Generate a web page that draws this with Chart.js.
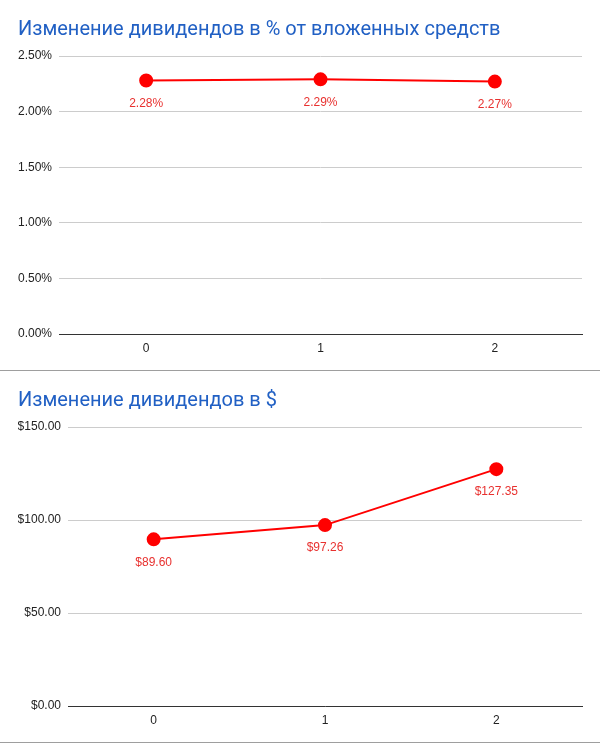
<!DOCTYPE html>
<html>
<head>
<meta charset="utf-8">
<script src="https://cdn.jsdelivr.net/npm/chart.js@4"></script>
<style>
  body { margin: 0; background: #fff; }
  .bloco { position: absolute; left: 0; width: 600px; }
  #blocoPct { top: 0; height: 370px; border-bottom: 1px solid #9e9e9e; }
  #blocoUsd { top: 371px; height: 371px; border-bottom: 1px solid #9e9e9e; }
</style>
</head>
<body>
<div class="bloco" id="blocoPct"><canvas id="graficoPct"></canvas></div>
<div class="bloco" id="blocoUsd"><canvas id="graficoUsd"></canvas></div>
<script>
const anos = ["0", "1", "2"]
const dividendosPct = [2.28, 2.29, 2.27]
const dividendosUsd = [89.60, 97.26, 127.35]

const tituloPct = "Изменение дивидендов в % от вложенных средств"
const tituloUsd = "Изменение дивидендов в $"

const vermelho = "#ff0000"

// escreve o valor embaixo de cada ponto
const rotuloPontos = {
  id: "rotuloPontos",
  afterDatasetsDraw(chart, args, opts) {
    const ctx = chart.ctx
    const meta = chart.getDatasetMeta(0)
    const dados = chart.data.datasets[0].data
    ctx.save()
    ctx.font = "12px 'Liberation Sans', Arial, sans-serif"
    ctx.fillStyle = "#e8312f"
    ctx.textAlign = "center"
    ctx.textBaseline = "middle"
    meta.data.forEach((ponto, i) => {
      ctx.fillText(opts.formato(dados[i]), ponto.x, ponto.y + 23)
    })
    ctx.restore()
  }
}

function criarGrafico(canvas, titulo, dados, max, passo, formato, larguraY) {
  return new Chart(canvas, {
    type: "line",
    data: {
      labels: anos,
      datasets: [{
        data: dados,
        borderColor: vermelho,
        backgroundColor: vermelho,
        borderWidth: 2,
        pointRadius: 6,
        pointHoverRadius: 6,
        tension: 0
      }]
    },
    options: {
      responsive: true,
      maintainAspectRatio: false,
      animation: false,
      layout: { padding: { left: 18, right: 18, bottom: 0, top: 0 } },
      plugins: {
        legend: { display: false },
        tooltip: { enabled: false },
        title: {
          display: true,
          text: titulo,
          align: "start",
          color: "#2160c4",
          font: { family: "Roboto, Arial, sans-serif", size: 20, weight: "normal" },
          padding: { top: 18, bottom: 14 }
        },
        rotuloPontos: { formato: formato }
      },
      scales: {
        x: {
          offset: true,
          grid: { display: false, drawTicks: false },
          border: { display: true, color: "#333", width: 1 },
          ticks: {
            color: "#222",
            padding: 7,
            font: { family: "'Liberation Sans', Arial, sans-serif", size: 12 }
          },
          afterFit(scale) { scale.height = 36 }
        },
        y: {
          min: 0,
          max: max,
          grid: { color: "#cccccc", drawTicks: false },
          border: { display: false },
          ticks: {
            stepSize: passo,
            color: "#222",
            padding: 7,
            font: { family: "'Liberation Sans', Arial, sans-serif", size: 12 },
            callback: v => formato(v)
          },
          afterFit(scale) { scale.width = larguraY }
        }
      }
    },
    plugins: [rotuloPontos]
  })
}

criarGrafico(document.getElementById("graficoPct"), tituloPct, dividendosPct,
  2.5, 0.5, v => v.toFixed(2) + "%", 41)

criarGrafico(document.getElementById("graficoUsd"), tituloUsd, dividendosUsd,
  150, 50, v => "$" + v.toFixed(2), 50)
</script>
</body>
</html>
